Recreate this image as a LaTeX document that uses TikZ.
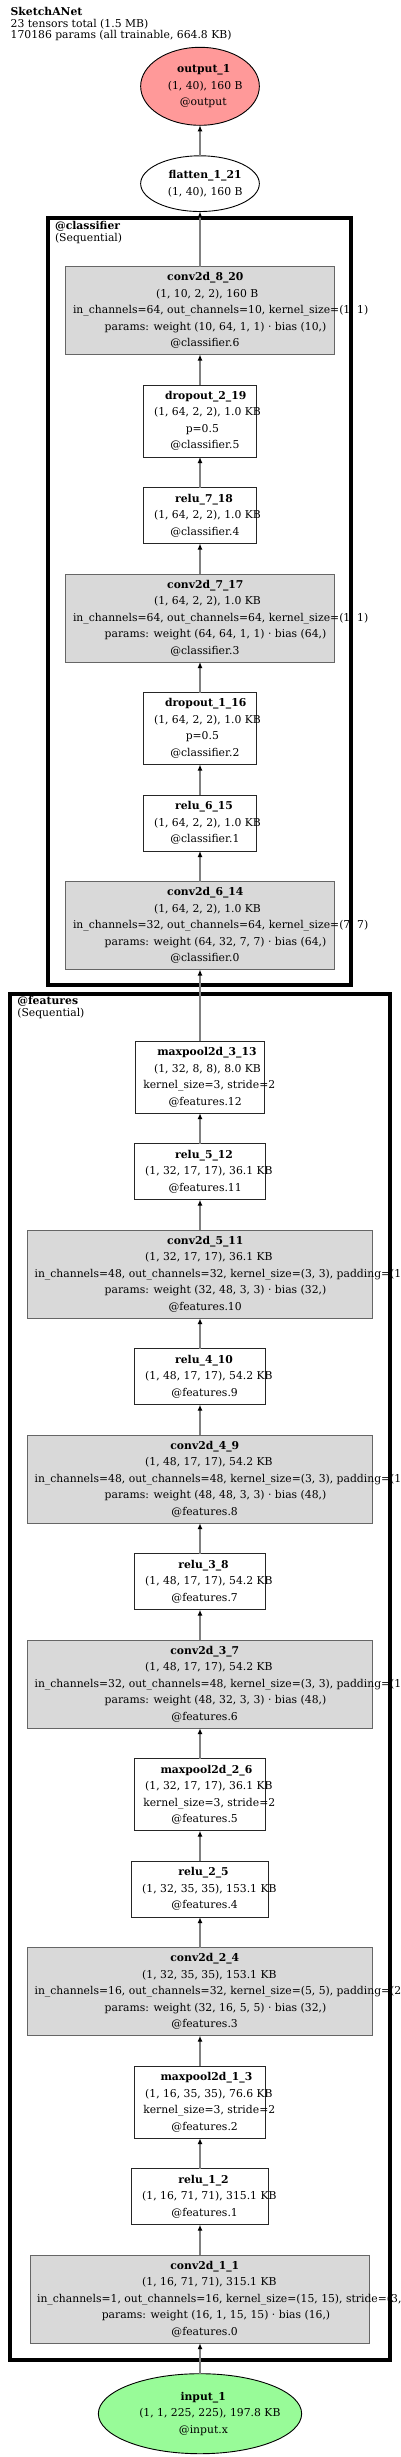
\documentclass[tikz,border=0pt]{standalone}
\usepackage{fontspec}
\setmainfont{DejaVu Serif}
\usepackage{xcolor}
\usepackage{tikz}
\usetikzlibrary{shapes.geometric, arrows.meta, positioning, fit}

\definecolor{convgray}{HTML}{D9D9D9}
\definecolor{outred}{HTML}{FF9999}
\definecolor{ingreen}{HTML}{98FB98}
\definecolor{edgegray}{HTML}{808080}

% one line of a node label, pushed a little to the right
\newcommand{\gl}[1]{\setbox0=\hbox{#1}\makebox[0pt]{\hspace{0.14\wd0}\box0}}

\begin{document}
\begin{tikzpicture}[
        x=1pt, y=-1pt,
        node distance=30.5pt,
        every node/.style={font=\fontsize{10.8}{16.5}\selectfont, inner sep=0pt, outer sep=0pt},
        layer/.style={rectangle, draw=black!85, fill=white, line width=0.9pt, minimum height=56pt, align=center},
        conv/.style={layer, draw=black!60, fill=convgray, minimum height=88pt},
        tensor/.style={ellipse, draw=black, line width=0.9pt, minimum width=118.7pt, align=center},
        cluster/.style={rectangle, draw=black, line width=4pt, inner sep=0pt},
        head/.style={anchor=north west, align=left, font=\fontsize{10.8}{11.7}\selectfont},
        link/.style={edgegray, line width=1.3pt, -{Latex[color=black, length=6pt, width=5pt]}}
    ]
    \useasboundingbox (0,0) rectangle (400,2457);

    % Title
    \node[head] (title) at (10.7,7.3) {\textbf{SketchANet}\\23 tensors total (1.5 MB)\\170186 params (all trainable, 664.8 KB)};

    % Clusters
    \node[cluster, fit={(47.7,218) (351.3,984.7)}] (classifier) {};
    \node[head, font=\fontsize{10.8}{12}\selectfont] (classhead) at (55,220.8) {\textbf{@classifier}\\(Sequential)};
    \node[cluster, fit={(10.3,994.3) (389.7,2360)}] (features) {};
    \node[head, font=\fontsize{10.8}{12}\selectfont] (feathead) at (17.3,996.3) {\textbf{@features}\\(Sequential)};

    % Input
    \node[tensor, fill=ingreen, minimum width=203.3pt, minimum height=80pt] (input) at (200,2413.7) {\gl{\bfseries input\_1}\\ \gl{(1, 1, 225, 225), 197.8 KB}\\ \gl{@input.x}};

    % Features
    \node[conv, minimum width=339pt, above=of input] (conv1) {\gl{\bfseries conv2d\_1\_1}\\ \gl{(1, 16, 71, 71), 315.1 KB}\\ \gl{in\_channels=1, out\_channels=16, kernel\_size=(15, 15), stride=(3, 3)}\\ \gl{params: weight (16, 1, 15, 15) · bias (16,)}\\ \gl{@features.0}};
    \node[layer, minimum width=137pt, above=of conv1] (relu1) {\gl{\bfseries relu\_1\_2}\\ \gl{(1, 16, 71, 71), 315.1 KB}\\ \gl{@features.1}};
    \node[layer, minimum width=131pt, minimum height=72pt, above=of relu1] (pool1) {\gl{\bfseries maxpool2d\_1\_3}\\ \gl{(1, 16, 35, 35), 76.6 KB}\\ \gl{kernel\_size=3, stride=2}\\ \gl{@features.2}};
    \node[conv, minimum width=345.3pt, above=of pool1] (conv2) {\gl{\bfseries conv2d\_2\_4}\\ \gl{(1, 32, 35, 35), 153.1 KB}\\ \gl{in\_channels=16, out\_channels=32, kernel\_size=(5, 5), padding=(2, 2)}\\ \gl{params: weight (32, 16, 5, 5) · bias (32,)}\\ \gl{@features.3}};
    \node[layer, minimum width=137pt, above=of conv2] (relu2) {\gl{\bfseries relu\_2\_5}\\ \gl{(1, 32, 35, 35), 153.1 KB}\\ \gl{@features.4}};
    \node[layer, minimum width=131pt, minimum height=72pt, above=of relu2] (pool2) {\gl{\bfseries maxpool2d\_2\_6}\\ \gl{(1, 32, 17, 17), 36.1 KB}\\ \gl{kernel\_size=3, stride=2}\\ \gl{@features.5}};
    \node[conv, minimum width=345.3pt, above=of pool2] (conv3) {\gl{\bfseries conv2d\_3\_7}\\ \gl{(1, 48, 17, 17), 54.2 KB}\\ \gl{in\_channels=32, out\_channels=48, kernel\_size=(3, 3), padding=(1, 1)}\\ \gl{params: weight (48, 32, 3, 3) · bias (48,)}\\ \gl{@features.6}};
    \node[layer, minimum width=131pt, above=of conv3] (relu3) {\gl{\bfseries relu\_3\_8}\\ \gl{(1, 48, 17, 17), 54.2 KB}\\ \gl{@features.7}};
    \node[conv, minimum width=345.3pt, above=of relu3] (conv4) {\gl{\bfseries conv2d\_4\_9}\\ \gl{(1, 48, 17, 17), 54.2 KB}\\ \gl{in\_channels=48, out\_channels=48, kernel\_size=(3, 3), padding=(1, 1)}\\ \gl{params: weight (48, 48, 3, 3) · bias (48,)}\\ \gl{@features.8}};
    \node[layer, minimum width=131pt, above=of conv4] (relu4) {\gl{\bfseries relu\_4\_10}\\ \gl{(1, 48, 17, 17), 54.2 KB}\\ \gl{@features.9}};
    \node[conv, minimum width=345.3pt, above=of relu4] (conv5) {\gl{\bfseries conv2d\_5\_11}\\ \gl{(1, 32, 17, 17), 36.1 KB}\\ \gl{in\_channels=48, out\_channels=32, kernel\_size=(3, 3), padding=(1, 1)}\\ \gl{params: weight (32, 48, 3, 3) · bias (32,)}\\ \gl{@features.10}};
    \node[layer, minimum width=131pt, above=of conv5] (relu5) {\gl{\bfseries relu\_5\_12}\\ \gl{(1, 32, 17, 17), 36.1 KB}\\ \gl{@features.11}};
    \node[layer, minimum width=129pt, minimum height=72pt, above=of relu5] (pool3) {\gl{\bfseries maxpool2d\_3\_13}\\ \gl{(1, 32, 8, 8), 8.0 KB}\\ \gl{kernel\_size=3, stride=2}\\ \gl{@features.12}};

    % Classifier
    \node[conv, minimum width=269pt, above=71.7pt of pool3] (conv6) {\gl{\bfseries conv2d\_6\_14}\\ \gl{(1, 64, 2, 2), 1.0 KB}\\ \gl{in\_channels=32, out\_channels=64, kernel\_size=(7, 7)}\\ \gl{params: weight (64, 32, 7, 7) · bias (64,)}\\ \gl{@classifier.0}};
    \node[layer, minimum width=113.7pt, above=of conv6] (relu6) {\gl{\bfseries relu\_6\_15}\\ \gl{(1, 64, 2, 2), 1.0 KB}\\ \gl{@classifier.1}};
    \node[layer, minimum width=113.7pt, minimum height=72pt, above=of relu6] (drop1) {\gl{\bfseries dropout\_1\_16}\\ \gl{(1, 64, 2, 2), 1.0 KB}\\ \gl{p=0.5}\\ \gl{@classifier.2}};
    \node[conv, minimum width=269pt, above=of drop1] (conv7) {\gl{\bfseries conv2d\_7\_17}\\ \gl{(1, 64, 2, 2), 1.0 KB}\\ \gl{in\_channels=64, out\_channels=64, kernel\_size=(1, 1)}\\ \gl{params: weight (64, 64, 1, 1) · bias (64,)}\\ \gl{@classifier.3}};
    \node[layer, minimum width=113.7pt, above=of conv7] (relu7) {\gl{\bfseries relu\_7\_18}\\ \gl{(1, 64, 2, 2), 1.0 KB}\\ \gl{@classifier.4}};
    \node[layer, minimum width=113.7pt, minimum height=72pt, above=of relu7] (drop2) {\gl{\bfseries dropout\_2\_19}\\ \gl{(1, 64, 2, 2), 1.0 KB}\\ \gl{p=0.5}\\ \gl{@classifier.5}};
    \node[conv, minimum width=269pt, above=of drop2] (conv8) {\gl{\bfseries conv2d\_8\_20}\\ \gl{(1, 10, 2, 2), 160 B}\\ \gl{in\_channels=64, out\_channels=10, kernel\_size=(1, 1)}\\ \gl{params: weight (10, 64, 1, 1) · bias (10,)}\\ \gl{@classifier.6}};

    % Output
    \node[tensor, fill=white, minimum height=55.7pt, above=55pt of conv8] (flatten) {\gl{\bfseries flatten\_1\_21}\\ \gl{(1, 40), 160 B}};
    \node[tensor, fill=outred, minimum height=78pt, above=of flatten] (output) {\gl{\bfseries output\_1}\\ \gl{(1, 40), 160 B}\\ \gl{@output}};

    % Arrows
    \foreach \a/\b in {input/conv1, conv1/relu1, relu1/pool1, pool1/conv2, conv2/relu2, relu2/pool2,
        pool2/conv3, conv3/relu3, relu3/conv4, conv4/relu4, relu4/conv5, conv5/relu5, relu5/pool3,
        pool3/conv6, conv6/relu6, relu6/drop1, drop1/conv7, conv7/relu7, relu7/drop2, drop2/conv8,
        conv8/flatten, flatten/output}
        \draw[link] (\a) -- (\b);

\end{tikzpicture}
\end{document}
